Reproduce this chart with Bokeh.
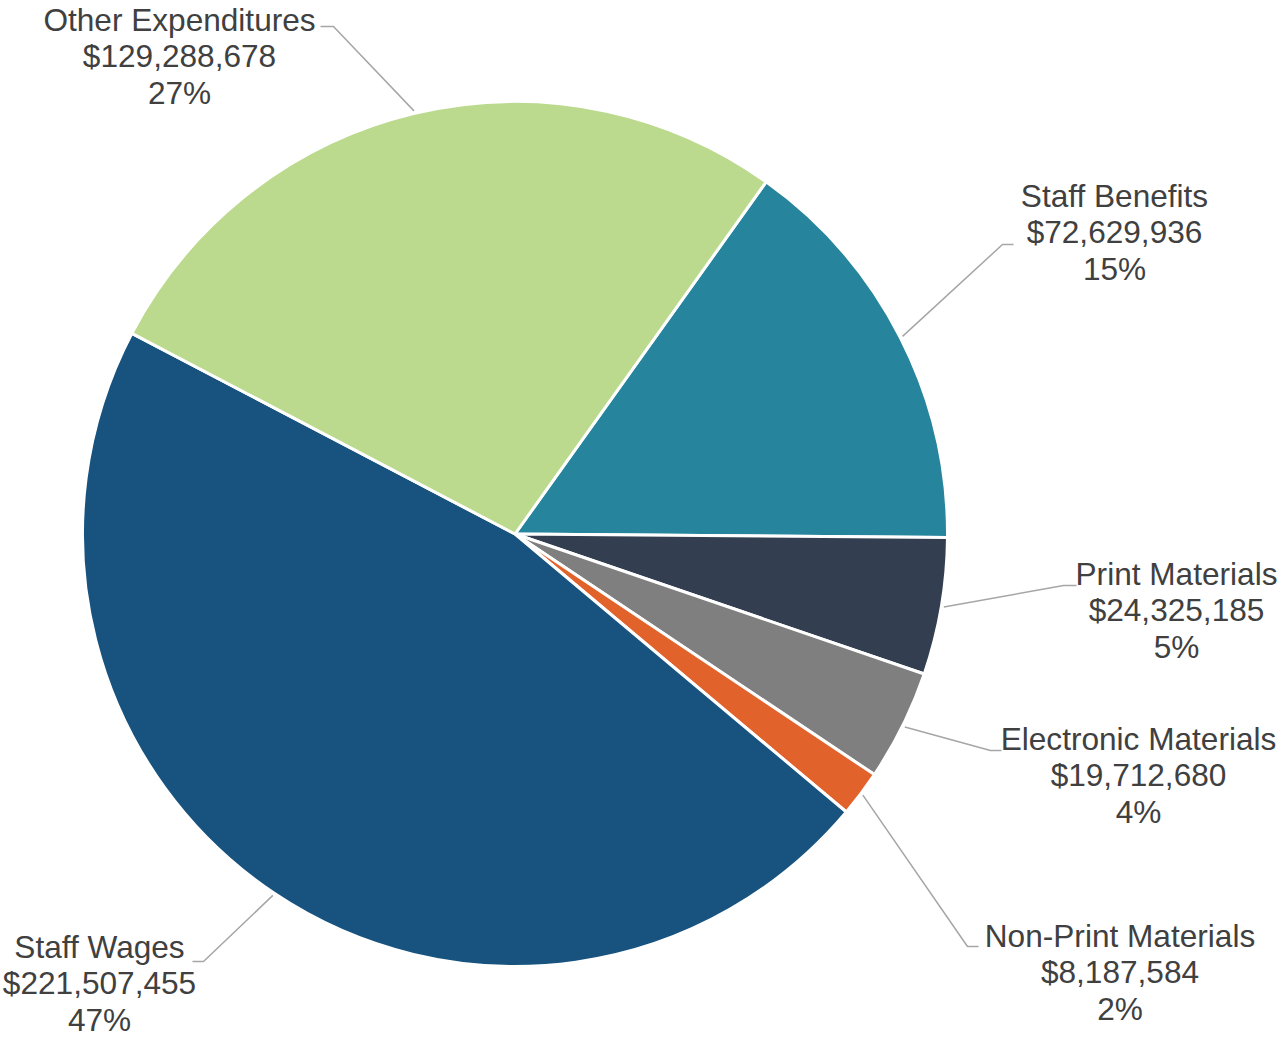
import math
from bokeh.plotting import figure
from bokeh.models import Range1d, ColumnDataSource
from bokeh.embed import file_html
from bokeh.resources import INLINE
from bokeh.core.properties import value

# ---- data (clockwise order, starting at the Other/Benefits boundary) ----
categories = ["Staff Benefits", "Print Materials", "Electronic Materials",
              "Non-Print Materials", "Staff Wages", "Other Expenditures"]
amounts = [72629936, 24325185, 19712680, 8187584, 221507455, 129288678]
colors = ["#26849C", "#333F50", "#7F7F7F", "#E2622C", "#17537E", "#BBDA8E"]

# ---- layout (reference pixel coordinates, y downwards) ----
label_pos = [(1114, 195), (1176, 573), (1138, 738), (1119.5, 935), (99, 946), (179, 19)]
elbows = [(1002, 244), (1063, 585), (990, 750), (967, 946), (203, 961), (333, 26)]
ends = [(1013, 244), (1076, 585), (1001, 750), (978, 946), (192, 961), (320, 26)]
CX, CY, R = 514.5, 533.5, 432.5
R_LEAD = 435
START = 35.5  # degrees clockwise from 12 o'clock
LINE_STEP = 36.5

W, H = 1283, 1038
p = figure(width=W, height=H, output_backend="svg", toolbar_location=None,
           x_range=Range1d(0, W), y_range=Range1d(H, 0),
           x_axis_type=None, y_axis_type=None, min_border=0)
p.grid.visible = False
p.outline_line_color = None
p.background_fill_color = "white"

total = sum(amounts)
th0, th1, mids = [], [], []
acc = START
for v in amounts:
    span = 360.0 * v / total
    th0.append(acc)
    th1.append(acc + span)
    mids.append(acc + span / 2)
    acc += span

src = ColumnDataSource(dict(
    x=[CX] * len(amounts), y=[CY] * len(amounts),
    start=[math.radians(90 - b) for b in th1],
    end=[math.radians(90 - a) for a in th0],
    color=colors))
p.wedge(x="x", y="y", radius=R, start_angle="start", end_angle="end",
        direction="anticlock", fill_color="color", line_color="white",
        line_width=3, source=src)

# leader lines
xs, ys = [], []
for m, e, t in zip(mids, elbows, ends):
    px = CX + R_LEAD * math.sin(math.radians(m))
    py = CY - R_LEAD * math.cos(math.radians(m))
    xs.append([px, e[0], t[0]])
    ys.append([py, e[1], t[1]])
p.multi_line(xs=xs, ys=ys, line_color="#A6A6A6", line_width=1.5)

# labels
tx, ty, tt = [], [], []
for cat, v, (lx, ly) in zip(categories, amounts, label_pos):
    lines = [cat, f"${v:,}", f"{round(100 * v / total)}%"]
    for i, s in enumerate(lines):
        tx.append(lx)
        ty.append(ly + i * LINE_STEP)
        tt.append(s)
p.text(x=tx, y=ty, text=tt, text_align="center", text_baseline="alphabetic",
       text_font=value("Liberation Sans"), text_font_size="31.6px",
       text_color="#404040")

open("out.html", "w").write(file_html(p, INLINE))
